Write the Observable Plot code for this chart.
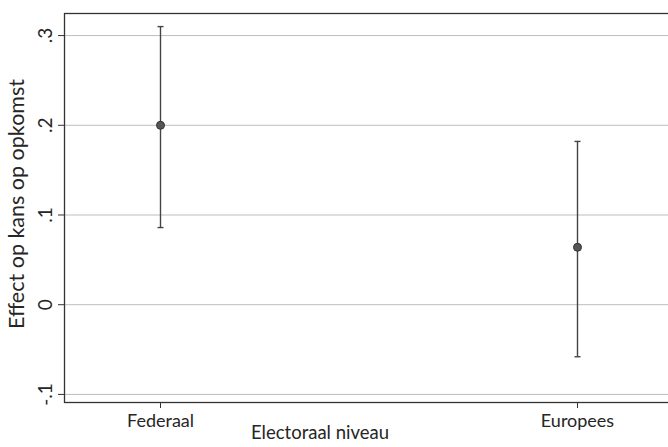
<!DOCTYPE html>
<html>
<head>
<meta charset="utf-8">
<script src="https://cdn.jsdelivr.net/npm/d3@7"></script>
<script src="https://cdn.jsdelivr.net/npm/@observablehq/plot@0.6"></script>
<style>
  html, body { margin: 0; padding: 0; background: #fff; overflow: hidden; }
  #chart { width: 668px; height: 447px; overflow: hidden; }
  #chart svg { max-width: none !important; }
</style>
</head>
<body>
<div id="chart"></div>
<script>
const levels = ["Federaal", "Europees"];
const estimates = [0.200, 0.064];
const lower = [0.086, -0.058];
const upper = [0.310, 0.182];
const yTicks = [-0.1, 0, 0.1, 0.2, 0.3];
const yTickLabels = ["-.1", "0", ".1", ".2", ".3"];
const xTitle = "Electoraal niveau";
const yTitle = "Effect op kans op opkomst";

const data = levels.map((l, i) => ({level: l, est: estimates[i], lo: lower[i], hi: upper[i]}));
const caps = data.flatMap(d => [{level: d.level, v: d.lo}, {level: d.level, v: d.hi}]);

const capSymbol = {
  draw(context, size) {
    context.moveTo(-3, 0);
    context.lineTo(3, 0);
  }
};

const font = "Lato, 'Open Sans', sans-serif";
const ink = "#262626";

const chart = Plot.plot({
  width: 680,
  height: 447,
  marginLeft: 64,
  marginRight: 7,
  marginTop: 13,
  marginBottom: 45,
  style: {fontFamily: font, fontSize: "18px", color: ink, background: "#fff", maxWidth: "none"},
  x: {type: "point", domain: levels, padding: 0.23},
  y: {domain: [-0.109, 0.3246]},
  marks: [
    Plot.ruleY(yTicks, {stroke: "#bdbdbd", strokeWidth: 1}),
    Plot.frame({stroke: "#333", strokeWidth: 1.3}),
    Plot.axisY({ticks: yTicks, tickSize: 6, text: null, stroke: "#333", label: null}),
    Plot.text(yTicks, {y: d => d, text: (d, i) => yTickLabels[i], frameAnchor: "left", textAnchor: "middle", rotate: -90, dx: -19, fill: ink, fontSize: 19}),
    Plot.axisX({tickSize: 6, tickPadding: 6, stroke: "#333", label: null, fontSize: 18, fill: ink}),
    Plot.text([yTitle], {frameAnchor: "left", textAnchor: "middle", rotate: -90, dx: -47, dy: -4, text: d => d, fill: ink, fontSize: 21.5}),
    Plot.text([xTitle], {frameAnchor: "bottom", dx: -49, dy: 36, text: d => d, fill: ink, fontSize: 18.5}),
    Plot.ruleX(data, {x: "level", y1: "lo", y2: "hi", stroke: "#444", strokeWidth: 1.4}),
    Plot.dot(caps, {x: "level", y: "v", symbol: capSymbol, stroke: "#444", strokeWidth: 1.4, r: 3}),
    Plot.dot(data, {x: "level", y: "est", r: 4, fill: "#555", stroke: "#333", strokeWidth: 1})
  ]
});
document.getElementById("chart").appendChild(chart);
</script>
</body>
</html>
